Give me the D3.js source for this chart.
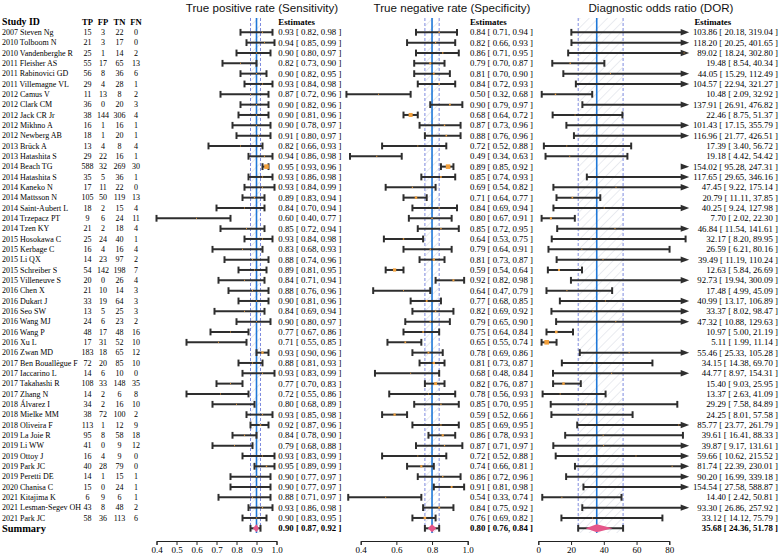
<!DOCTYPE html>
<html><head><meta charset="utf-8">
<script src="https://cdn.jsdelivr.net/npm/d3@7/dist/d3.min.js"></script>
<style>body{margin:0;background:#fff}svg{display:block}</style>
</head><body><svg id="c" width="780" height="557"></svg>
<script>
const studyIds = ["2007 Steven Ng","2010 Tolboom N","2010 Vandenberghe R","2011 Fleisher AS","2011 Rabinovici GD","2011 Villemagne VL","2012 Camus V","2012 Clark CM","2012 Jack CR Jr","2012 Mikhno A","2012 Newberg AB","2013 Brück A","2013 Hatashita S","2014 Beach TG","2014 Hatashita S","2014 Kaneko N","2014 Mattsson N","2014 Saint-Aubert L","2014 Trzepacz PT","2014 Tzen KY","2015 Hosokawa C","2015 Kerbage C","2015 Li QX","2015 Schreiber S","2015 Villeneuve S","2016 Chen X","2016 Dukart J","2016 Seo SW","2016 Wang MJ","2016 Wang P","2016 Xu L","2016 Zwan MD","2017 Ben Bouallègue F","2017 Iaccarino L","2017 Takahashi R","2017 Zhang N","2018 Álvarez I","2018 Mielke MM","2018 Oliveira F","2019 La Joie R","2019 Li WW","2019 Ottoy J","2019 Park JC","2019 Peretti DE","2020 Chanisa C","2021 Kitajima K","2021 Lesman-Segev OH","2021 Park JC"];
const TP = [15,21,25,55,56,29,11,36,38,16,18,13,29,588,35,17,105,18,9,21,25,16,14,54,20,21,33,13,24,48,17,183,72,14,108,14,34,38,113,95,41,16,40,14,15,6,43,58];
const FP = [3,3,1,17,8,4,13,0,144,1,1,4,22,32,5,11,50,2,6,2,24,4,23,142,0,10,19,5,6,17,31,18,20,6,33,2,2,72,1,8,0,4,28,1,0,9,8,36];
const TN = [22,17,14,65,36,28,8,20,306,16,20,8,16,269,36,22,119,15,24,18,40,16,97,198,26,14,64,25,23,48,52,65,85,10,148,6,16,100,12,58,9,9,79,15,24,6,48,113];
const FN = [0,0,2,13,6,1,2,3,4,1,1,4,1,30,1,0,13,4,11,4,1,4,2,7,4,3,3,3,2,16,10,12,10,0,35,8,10,2,9,18,12,0,0,1,1,1,2,6];

const sensEst = [0.93,0.94,0.90,0.82,0.90,0.93,0.87,0.90,0.90,0.90,0.91,0.82,0.94,0.95,0.93,0.93,0.89,0.84,0.60,0.85,0.93,0.83,0.88,0.89,0.84,0.88,0.90,0.84,0.90,0.77,0.71,0.93,0.88,0.93,0.77,0.72,0.80,0.93,0.92,0.84,0.79,0.93,0.95,0.90,0.90,0.88,0.93,0.90];
const sensLo = [0.82,0.85,0.80,0.73,0.82,0.84,0.72,0.82,0.81,0.78,0.80,0.66,0.86,0.93,0.86,0.84,0.83,0.70,0.40,0.72,0.84,0.68,0.74,0.81,0.71,0.76,0.81,0.69,0.80,0.67,0.55,0.90,0.81,0.83,0.70,0.55,0.68,0.85,0.87,0.78,0.68,0.83,0.89,0.77,0.77,0.71,0.86,0.83];
const sensHi = [0.98,0.99,0.97,0.90,0.95,0.98,0.96,0.96,0.96,0.97,0.97,0.93,0.98,0.96,0.98,0.99,0.94,0.94,0.77,0.94,0.98,0.93,0.96,0.95,0.94,0.96,0.96,0.94,0.97,0.86,0.85,0.96,0.93,0.99,0.83,0.86,0.89,0.98,0.96,0.90,0.88,0.99,0.99,0.97,0.97,0.97,0.98,0.95];

const specEst = [0.84,0.82,0.86,0.79,0.81,0.84,0.50,0.90,0.68,0.87,0.88,0.72,0.49,0.89,0.85,0.69,0.71,0.84,0.80,0.85,0.64,0.79,0.81,0.59,0.92,0.64,0.77,0.82,0.79,0.75,0.65,0.78,0.81,0.68,0.82,0.78,0.85,0.59,0.85,0.86,0.87,0.72,0.74,0.86,0.91,0.54,0.84,0.76];
const specLo = [0.71,0.66,0.71,0.70,0.70,0.72,0.32,0.79,0.64,0.73,0.76,0.52,0.34,0.85,0.74,0.54,0.64,0.69,0.67,0.72,0.53,0.64,0.73,0.54,0.82,0.47,0.68,0.69,0.65,0.64,0.55,0.69,0.73,0.48,0.76,0.56,0.70,0.52,0.69,0.78,0.71,0.52,0.66,0.72,0.81,0.33,0.75,0.69];
const specHi = [0.94,0.93,0.95,0.87,0.90,0.93,0.68,0.97,0.72,0.96,0.96,0.88,0.63,0.92,0.93,0.82,0.77,0.94,0.91,0.95,0.75,0.91,0.87,0.64,0.98,0.79,0.85,0.92,0.90,0.84,0.74,0.86,0.87,0.84,0.87,0.93,0.95,0.66,0.95,0.93,0.97,0.88,0.81,0.96,0.98,0.74,0.92,0.82];

const dorEst = [103.86,118.20,89.02,19.48,44.05,104.57,10.48,137.91,22.46,101.43,116.96,17.39,19.18,154.02,117.65,47.45,20.79,40.25,7.70,46.84,32.17,26.59,39.49,12.63,92.73,17.48,40.99,33.37,47.32,10.97,5.11,55.46,34.15,44.77,15.40,13.37,29.29,24.25,85.77,39.61,39.87,59.66,81.74,90.20,154.54,14.40,93.30,33.12];
const dorLo = [20.18,20.25,18.24,8.54,15.29,22.94,2.09,26.91,8.75,17.15,21.77,3.40,4.42,95.28,29.65,9.22,11.11,9.24,2.02,11.54,8.20,6.21,11.19,5.84,19.94,4.99,13.17,8.02,10.88,5.00,1.99,25.33,14.38,8.97,9.03,2.63,7.58,8.01,23.77,16.41,9.17,10.62,22.39,16.99,27.58,2.42,26.86,14.12];
const dorHi = [319.04,401.65,302.80,40.34,112.49,321.27,32.92,476.82,51.37,355.79,426.51,56.72,54.42,247.31,346.16,175.14,37.85,127.98,22.30,141.61,89.95,80.16,110.24,26.69,300.09,45.09,106.89,98.47,129.63,21.19,11.14,105.28,69.70,154.31,25.95,41.09,84.89,57.58,261.79,88.33,131.61,215.52,230.01,339.18,588.87,50.81,257.92,75.79];

const summaryEst = [0.90, 0.80, 35.68];
const summaryLo  = [0.87, 0.76, 24.36];
const summaryHi  = [0.92, 0.84, 51.78];

const panelTitles = ["True positive rate (Sensitivity)", "True negative rate (Specificity)", "Diagnostic odds ratio (DOR)"];
const ticksSens = [0.4,0.5,0.6,0.7,0.8,0.9,1.0];
const ticksSpec = [0.4,0.6,0.8,1.0];
const ticksDor  = [0,20,40,60,80];
const tableHeaders = ["Study ID","TP","FP","TN","FN"];

const svg = d3.select("#c");
const SERIF = "'Liberation Serif','Times New Roman',serif";
const SANS = "'Liberation Sans',Arial,sans-serif";
const n = studyIds.length;
const rowKeys = d3.range(n + 1);
const y = d3.scalePoint().domain(rowKeys).range([32.3, 528.3]);

// hatch pattern
const defs = svg.append("defs");
const pat = defs.append("pattern").attr("id","hatch").attr("patternUnits","userSpaceOnUse")
  .attr("width",6.5).attr("height",6.5).attr("patternTransform","rotate(45)");
pat.append("line").attr("x1",0).attr("y1",0).attr("x2",0).attr("y2",6.5)
  .attr("stroke","#c3c7d6").attr("stroke-width",0.7);

// ---- table ----
const colX = [2, 87.5, 103, 119.5, 136];
const tbl = svg.append("g").attr("font-family", SERIF).attr("fill","#000");
tbl.selectAll("text.h").data(tableHeaders).join("text")
  .attr("x",(d,i)=>colX[i]).attr("y",21.7).attr("dy","0.35em")
  .attr("text-anchor",(d,i)=>i===0?"start":"middle")
  .attr("font-weight","bold").attr("font-size",(d,i)=>i===0?"9.8px":"8.6px").text(d=>d);
const cols = [studyIds, TP, FP, TN, FN];
cols.forEach((arr,ci)=>{
  tbl.append("g").selectAll("text").data(arr).join("text")
    .attr("x",colX[ci]).attr("y",(d,i)=>y(i)).attr("dy","0.35em")
    .attr("text-anchor",ci===0?"start":"middle")
    .attr("font-size","8px").text(d=>d);
});
tbl.append("text").attr("x",2).attr("y",y(n)).attr("dy","0.35em")
  .attr("font-weight","bold").attr("font-size","10.4px").text("Summary");

// ---- panels ----
const f2 = d3.format(".2f");
const pad = (v,w)=>{ let s=f2(v); while(s.length<w) s=" "+s; return s; };
const panels = [
  { est:sensEst, lo:sensLo, hi:sensHi, dom:[0.4,1.0], rng:[156.5,276.5], ticks:ticksSens, tf:d3.format(".1f"),
    axisDom:[0.4,1.0], clip:null, titleX:262, estX:278.3, anchor:"start",
    fmt:(e,l,h)=>`${f2(e)} [ ${f2(l)}, ${f2(h)} ]` },
  { est:specEst, lo:specLo, hi:specHi, dom:[0.4,1.0], rng:[360.7,467.7], ticks:ticksSpec, tf:d3.format(".1f"),
    axisDom:[0.4,1.0], clip:null, titleX:452, estX:470, anchor:"start",
    fmt:(e,l,h)=>`${f2(e)} [ ${f2(l)}, ${f2(h)} ]` },
  { est:dorEst, lo:dorLo, hi:dorHi, dom:[0,80], rng:[538.3,669.3], ticks:ticksDor, tf:d3.format("d"),
    axisDom:[0,80], clip:90, titleX:661, estX:778, anchor:"end", headX:694.5,
    fmt:(e,l,h)=>`${pad(e,6)} [${pad(l,6)}, ${pad(h,6)} ]` }
];

panels.forEach((p,pi)=>{
  const x = d3.scaleLinear().domain(p.dom).range(p.rng);
  const g = svg.append("g");
  const sEst = summaryEst[pi], sLo = summaryLo[pi], sHi = summaryHi[pi];
  const top = 18, bot = 533;

  // title
  g.append("text").attr("x",p.titleX).attr("y",8).attr("dy","0.35em").attr("text-anchor","middle")
    .attr("font-family",SANS).attr("font-size","11.6px").attr("fill","#111").text(panelTitles[pi]);

  // hatched band + reference lines
  g.append("rect").attr("x",x(sLo)).attr("y",top).attr("width",x(sHi)-x(sLo)).attr("height",bot-top)
    .attr("fill","url(#hatch)");
  [sLo,sHi].forEach(v=>g.append("line").attr("x1",x(v)).attr("x2",x(v)).attr("y1",top).attr("y2",bot)
    .attr("stroke","#7f8ce0").attr("stroke-width",1).attr("stroke-dasharray","3,2"));
  g.append("line").attr("x1",x(sEst)).attr("x2",x(sEst)).attr("y1",top).attr("y2",bot)
    .attr("stroke","#1f78d8").attr("stroke-width",1.6);

  // study rows
  const xmax = p.clip !== null ? p.clip : Infinity;
  const widths = p.est.map((d,i)=>p.hi[i]-p.lo[i]);
  const minW = d3.min(widths);
  const rows = p.est.map((e,i)=>({i, e, l:p.lo[i], h:p.hi[i], w:widths[i]}));
  const eb = g.append("g").attr("stroke","#2e2e2e").attr("stroke-width",2);
  const capH = 3.4;
  rows.forEach(r=>{
    const yy = y(r.i);
    if (r.l >= xmax) {
      // entire interval off-scale: arrowhead only
      const xa = x(xmax);
      g.append("path").attr("d",`M${xa-5},${yy-3.2}L${xa+3.5},${yy}L${xa-5},${yy+3.2}Z`).attr("fill","#2e2e2e");
      return;
    }
    const xr = r.h > xmax ? x(xmax) - 3 : x(r.h);
    eb.append("line").attr("x1",x(r.l)).attr("x2",xr).attr("y1",yy).attr("y2",yy);
    eb.append("line").attr("x1",x(r.l)).attr("x2",x(r.l)).attr("y1",yy-capH).attr("y2",yy+capH);
    if (r.h > xmax) {
      const xa = x(xmax);
      g.append("path").attr("d",`M${xa-5},${yy-3.2}L${xa+3.5},${yy}L${xa-5},${yy+3.2}Z`).attr("fill","#2e2e2e");
    } else {
      eb.append("line").attr("x1",x(r.h)).attr("x2",x(r.h)).attr("y1",yy-capH).attr("y2",yy+capH);
    }
  });
  // points sized by precision
  g.append("g").selectAll("rect").data(rows.filter(r=>r.e < xmax)).join("rect")
    .each(function(r){
      const s = Math.max(1, 4.6*minW/r.w);
      d3.select(this).attr("x",x(r.e)-s/2).attr("y",y(r.i)-s/2).attr("width",s).attr("height",s);
    })
    .attr("fill","#f2a03c");

  // summary row
  const ys = y(n);
  const sg = g.append("g").attr("stroke","#2e2e2e").attr("stroke-width",2);
  sg.append("line").attr("x1",x(sLo)).attr("x2",x(sHi)).attr("y1",ys).attr("y2",ys);
  [sLo,sHi].forEach(v=>sg.append("line").attr("x1",x(v)).attr("x2",x(v)).attr("y1",ys-capH).attr("y2",ys+capH));
  const dl = x(sEst - 0.6*(sEst-sLo)), dr = x(sEst + 0.6*(sHi-sEst));
  g.append("path").attr("d",`M${dl},${ys}L${x(sEst)},${ys-4}L${dr},${ys}L${x(sEst)},${ys+4}Z`).attr("fill","#e5568a");

  // estimates text
  const tg = g.append("g").attr("font-family",SERIF).attr("fill","#000").style("white-space","pre");
  tg.append("text").attr("x",p.headX||p.estX).attr("y",21.7).attr("dy","0.35em").attr("font-weight","bold")
    .attr("font-size","8.8px").text("Estimates");
  tg.selectAll("text.e").data(rows).join("text").attr("class","e")
    .attr("x",p.estX).attr("y",r=>y(r.i)).attr("dy","0.35em").attr("text-anchor",p.anchor)
    .attr("font-size","8.8px").text(r=>p.fmt(r.e,r.l,r.h));
  tg.append("text").attr("x",p.estX).attr("y",ys).attr("dy","0.35em").attr("text-anchor",p.anchor)
    .attr("font-weight","bold").attr("font-size","8.8px").text(p.fmt(sEst,sLo,sHi));

  // axis
  const ax = d3.scaleLinear().domain(p.axisDom).range(p.axisDom.map(x));
  const axg = g.append("g").attr("transform","translate(0,541)")
    .call(d3.axisBottom(ax).tickValues(p.ticks).tickFormat(p.tf).tickSize(4).tickSizeOuter(4).tickPadding(2));
  axg.selectAll("path,line").attr("stroke","#222");
  axg.selectAll("text").attr("font-family",SERIF).attr("font-size","9px").attr("fill","#000");
});
</script></body></html>
